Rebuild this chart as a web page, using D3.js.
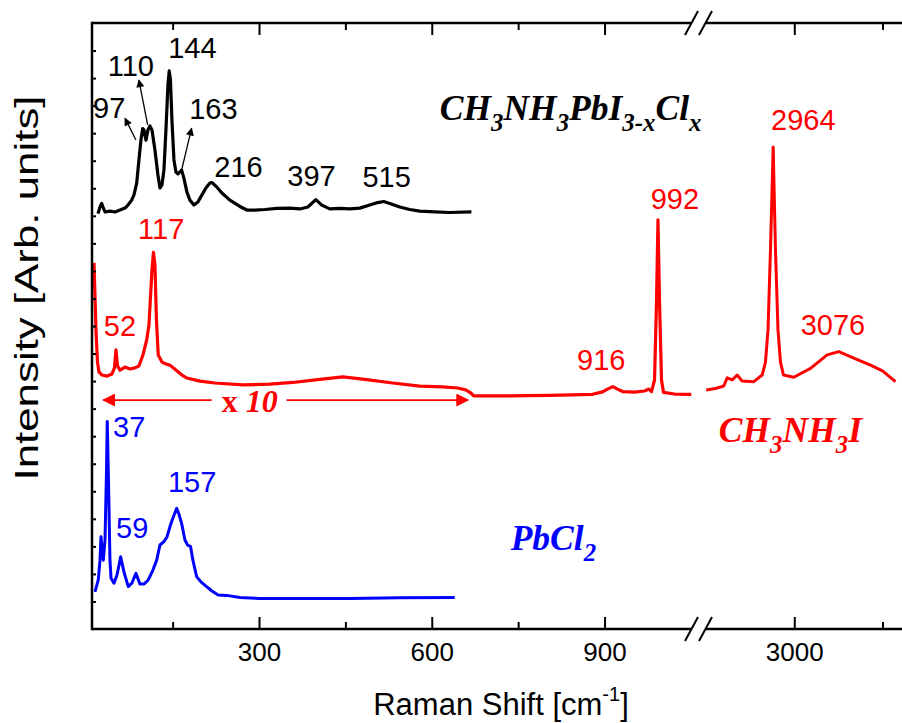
<!DOCTYPE html>
<html>
<head>
<meta charset="utf-8">
<script src="https://cdn.jsdelivr.net/npm/d3@7"></script>
<style>
  body { margin: 0; background: #fff; }
  svg { display: block; }
</style>
</head>
<body>
<div id="main"></div>
<script>

// ---- data (Raman shift in cm-1, intensity in arb. units) ----

const blackWn = [20.4, 23.9, 26.8, 29.1, 32.6, 41.2, 49.9, 58.6, 67.3, 72.5, 78.9, 82.9, 87.6, 91.5, 95.0, 98.0, 100.2, 103.7, 107.2, 110.6, 114.1, 119.3, 124.5, 128.0, 131.5, 134.9, 138.4, 141.9, 144.1, 146.2, 148.8, 152.3, 155.7, 159.2, 165.6, 169.6, 174.8, 180.0, 187.0, 193.9, 200.9, 207.8, 214.7, 218.2, 225.1, 235.6, 249.4, 266.8, 278.9, 292.8, 310.2, 331.0, 353.5, 370.9, 384.8, 398.6, 409.1, 422.9, 440.3, 457.6, 475.0, 492.3, 506.2, 516.6, 527.0, 544.4, 561.7, 579.1, 605.1, 631.1, 668.8];
const blackInt = [15.08, 15.32, 15.45, 15.32, 15.14, 15.17, 15.14, 15.21, 15.28, 15.39, 15.57, 15.76, 16.19, 17.03, 17.75, 18.17, 18.12, 17.75, 18.12, 18.26, 18.12, 17.39, 16.48, 16.01, 16.12, 16.66, 18.12, 19.75, 20.26, 19.93, 18.48, 17.03, 16.59, 16.52, 16.66, 16.37, 15.86, 15.57, 15.39, 15.50, 15.76, 16.01, 16.19, 16.21, 16.08, 15.83, 15.57, 15.34, 15.21, 15.21, 15.23, 15.27, 15.28, 15.25, 15.32, 15.59, 15.39, 15.25, 15.27, 15.25, 15.28, 15.39, 15.48, 15.52, 15.45, 15.32, 15.23, 15.17, 15.14, 15.12, 15.14];

const redWn = [13.5, 16.9, 19.5, 22.1, 27.4, 36.0, 44.7, 49.0, 51.6, 54.2, 58.6, 67.3, 75.9, 84.6, 91.5, 98.5, 104.9, 108.9, 111.5, 114.1, 116.7, 119.3, 121.9, 125.0, 131.5, 138.4, 145.3, 155.7, 166.2, 174.8, 197.4, 223.4, 272.0, 318.8, 358.7, 405.6, 445.5, 483.7, 532.2, 579.1, 619.0, 645.0, 658.9, 667.6, 672.8, 717.9, 804.6, 879.2, 896.5, 905.2, 914.4, 922.6, 931.3, 952.1, 969.4, 976.9, 981.6, 986.8, 990.3, 992.8, 995.4, 998.9, 1002.4, 1021.5, 1050.5];
const redInt = [13.29, 10.85, 9.69, 9.33, 9.22, 9.18, 9.26, 9.48, 10.13, 9.55, 9.40, 9.51, 9.44, 9.48, 9.55, 9.95, 10.49, 11.04, 12.02, 13.03, 13.67, 13.21, 11.22, 9.95, 9.69, 9.62, 9.58, 9.40, 9.22, 9.11, 9.00, 8.93, 8.86, 8.89, 8.95, 9.06, 9.15, 9.06, 8.93, 8.82, 8.79, 8.75, 8.68, 8.57, 8.46, 8.46, 8.48, 8.52, 8.61, 8.71, 8.80, 8.71, 8.62, 8.60, 8.64, 8.71, 8.62, 9.04, 11.94, 14.85, 11.94, 9.04, 8.59, 8.53, 8.52];

const redWnHigh = [2850.2, 2866.0, 2880.1, 2885.9, 2894.4, 2902.9, 2911.4, 2931.1, 2945.4, 2951.0, 2955.3, 2959.5, 2964.1, 2968.0, 2972.3, 2976.5, 2981.6, 2999.1, 3027.6, 3055.9, 3075.7, 3101.2, 3129.6, 3150.0, 3172.1];
const redIntHigh = [8.68, 8.73, 8.82, 9.12, 9.04, 9.22, 9.00, 8.98, 9.22, 9.69, 10.85, 13.76, 17.50, 13.76, 10.85, 9.69, 9.22, 9.14, 9.46, 9.95, 10.07, 9.83, 9.58, 9.37, 8.98];

const blueWn = [15.2, 20.9, 23.9, 25.6, 29.6, 32.6, 35.2, 36.5, 38.6, 41.2, 43.0, 48.2, 53.4, 59.8, 65.5, 73.0, 79.4, 86.3, 93.3, 100.2, 107.7, 115.8, 122.3, 128.0, 134.9, 140.1, 145.3, 150.5, 157.0, 160.9, 165.6, 171.4, 176.0, 181.2, 185.2, 191.7, 199.1, 209.0, 218.2, 229.1, 243.7, 266.8, 301.5, 370.9, 457.6, 544.4, 639.8];
const blueInt = [1.35, 1.78, 2.50, 3.35, 2.50, 3.23, 5.77, 7.53, 5.41, 2.50, 1.85, 1.66, 1.96, 2.62, 2.07, 1.54, 1.67, 2.02, 1.63, 1.63, 1.78, 2.14, 2.50, 3.05, 3.17, 3.34, 3.71, 4.03, 4.38, 4.17, 3.84, 3.23, 3.05, 2.99, 2.50, 1.90, 1.71, 1.54, 1.38, 1.23, 1.22, 1.14, 1.11, 1.11, 1.11, 1.13, 1.14];

// peak labels: text, shift, intensity
const blackPeaks = ['97', '110', '144', '163', '216', '397', '515'];
const blackPeakWn = [39.9, 77.5, 184.4, 220.8, 264.5, 391.2, 521.6];
const blackPeakInt = [18.56, 20.08, 20.72, 18.52, 16.42, 16.08, 16.06];

const redPeaks = ['52', '117', '916', '992'];
const redPeakWn = [58.6, 130.1, 894.3, 1022.1];
const redPeakInt = [10.64, 14.16, 9.40, 15.24];

const redPeaksHigh = ['2964', '3076'];
const redPeakWnHigh = [3015.4, 3065.8];
const redPeakIntHigh = [18.12, 10.67];

const bluePeaks = ['37', '59', '157'];
const bluePeakWn = [74.5, 79.7, 183.8];
const bluePeakInt = [6.98, 3.29, 4.98];

// pointer arrows for the black spectrum: [fromWn, fromInt, toWn, toInt]
const blackPointers = [[86.3, 17.75, 67.3, 18.54], [106.6, 18.30, 91.5, 19.93], [165.6, 16.66, 183.0, 18.18]];

// axis ticks
const majorLow = [300, 600, 900];
const minorLow = [150, 450, 750];
const majorHigh = [3000];
const minorHigh = [3150];
const yTicks = d3.range(1, 22);

// ---- layout ----
const w = 902;
const h = 723;
const pLeft = 92, pTop = 23, pBottom = 629;
const breakL = 691.5, breakR = 705.5;

const sans = "'Liberation Sans', Arial, sans-serif";
const serif = "'Liberation Serif', 'Times New Roman', serif";

const xLow = d3.scaleLinear().domain([10, 1051]).range([pLeft, breakL]);
const xHigh = d3.scaleLinear().domain([2849, 3200]).range([breakR, breakR + 351 * 0.588]);
const y = d3.scaleLinear().domain([0, 22]).range([pBottom, pTop]);

const svg = d3.select('#main').append('svg').attr('width', w).attr('height', h);
svg.append('rect').attr('width', w).attr('height', h).attr('fill', '#fff');

const plot = svg.append('g');

// ---- spectra ----
const lineLow = d3.line().x(d => xLow(d[0])).y(d => y(d[1]));
const lineHigh = d3.line().x(d => xHigh(d[0])).y(d => y(d[1]));
const zip = (a, b) => a.map((v, i) => [v, b[i]]);

plot.append('path').datum(zip(blueWn, blueInt)).attr('d', lineLow)
    .attr('fill', 'none').attr('stroke', '#0000ff').attr('stroke-width', 3).attr('stroke-linejoin', 'round');
plot.append('path').datum(zip(redWn, redInt)).attr('d', lineLow)
    .attr('fill', 'none').attr('stroke', '#ff0000').attr('stroke-width', 3.2).attr('stroke-linejoin', 'round');
plot.append('path').datum(zip(redWnHigh, redIntHigh)).attr('d', lineHigh)
    .attr('fill', 'none').attr('stroke', '#ff0000').attr('stroke-width', 3).attr('stroke-linejoin', 'round');
plot.append('path').datum(zip(blackWn, blackInt)).attr('d', lineLow)
    .attr('fill', 'none').attr('stroke', '#000').attr('stroke-width', 3.2).attr('stroke-linejoin', 'round');

// ---- axes ----
const axisX = (scale, vals, size, labels) => {
    const a = d3.axisBottom(scale).tickValues(vals).tickSize(-size).tickPadding(14);
    return labels ? a.tickFormat(d3.format('d')) : a.tickFormat('');
};
const axisT = (scale, vals, size) => d3.axisTop(scale).tickValues(vals).tickSize(-size).tickFormat('');

[[xLow, majorLow, minorLow], [xHigh, majorHigh, minorHigh]].forEach(([s, maj, mn]) => {
    plot.append('g').attr('transform', `translate(0,${pBottom})`).call(axisX(s, maj, 12, true));
    plot.append('g').attr('transform', `translate(0,${pBottom})`).call(axisX(s, mn, 7, false));
    plot.append('g').attr('transform', `translate(0,${pTop})`).call(axisT(s, maj, 12));
    plot.append('g').attr('transform', `translate(0,${pTop})`).call(axisT(s, mn, 7));
});
plot.append('g').attr('transform', `translate(${pLeft},0)`)
    .call(d3.axisLeft(y).tickValues(yTicks).tickSize(-4).tickFormat(''));

plot.selectAll('.domain').remove();
plot.selectAll('.tick line').attr('stroke', '#000').attr('stroke-width', 2);
plot.selectAll('.tick text').style('font-family', sans).style('font-size', '26px').attr('fill', '#000');

// frame lines with the break
const frame = plot.append('g').attr('stroke', '#000').attr('stroke-width', 2.5).attr('fill', 'none');
frame.append('line').attr('x1', pLeft).attr('x2', pLeft).attr('y1', pTop - 1.2).attr('y2', pBottom + 1.2);
[pTop, pBottom].forEach(yy => {
    frame.append('line').attr('x1', pLeft).attr('x2', breakL).attr('y1', yy).attr('y2', yy);
    frame.append('line').attr('x1', breakR).attr('x2', w + 10).attr('y1', yy).attr('y2', yy);
    [breakL, breakR].forEach(bx => {
        frame.append('line').attr('stroke-width', 2)
            .attr('x1', bx - 6.5).attr('y1', yy + 12).attr('x2', bx + 6.5).attr('y2', yy - 12);
    });
});

// ---- axis titles ----
const xt = svg.append('text').attr('x', 501).attr('y', 715).attr('text-anchor', 'middle')
    .style('font-family', sans).style('font-size', '31px');
xt.append('tspan').text('Raman Shift [cm');
xt.append('tspan').attr('dy', -14).style('font-size', '20px').text('-1');
xt.append('tspan').attr('dy', 14).text(']');

svg.append('text').attr('transform', 'translate(38,288) rotate(-90)').attr('text-anchor', 'middle')
    .attr('textLength', 385).attr('lengthAdjust', 'spacingAndGlyphs')
    .style('font-family', sans).style('font-size', '33px').text('Intensity [Arb. units]');

// ---- peak labels ----
const peakText = (names, wns, ints, scale, color) => {
    plot.selectAll(null).data(names).enter().append('text')
        .attr('x', (d, i) => scale(wns[i])).attr('y', (d, i) => y(ints[i]))
        .attr('text-anchor', 'middle').attr('fill', color)
        .style('font-family', sans).style('font-size', '29px').text(d => d);
};
peakText(blackPeaks, blackPeakWn, blackPeakInt, xLow, '#000');
peakText(redPeaks, redPeakWn, redPeakInt, xLow, '#ff0000');
peakText(redPeaksHigh, redPeakWnHigh, redPeakIntHigh, xHigh, '#ff0000');
peakText(bluePeaks, bluePeakWn, bluePeakInt, xLow, '#0000ff');

// arrow markers
const defs = svg.append('defs');
const marker = (id, color, mw, mh) => defs.append('marker').attr('id', id)
    .attr('viewBox', '0 0 10 10').attr('refX', 9).attr('refY', 5)
    .attr('markerWidth', mw).attr('markerHeight', mh).attr('markerUnits', 'userSpaceOnUse')
    .attr('orient', 'auto-start-reverse')
    .append('path').attr('d', 'M0,0 L10,5 L0,10 z').attr('fill', color);
marker('headBlack', '#000', 11, 8);
marker('headRed', '#ff0000', 16, 13);

plot.selectAll(null).data(blackPointers).enter().append('line')
    .attr('x1', d => xLow(d[0])).attr('y1', d => y(d[1]))
    .attr('x2', d => xLow(d[2])).attr('y2', d => y(d[3]))
    .attr('stroke', '#000').attr('stroke-width', 1.3).attr('marker-end', 'url(#headBlack)');

// x10 span arrow
const spanFrom = 29.6, spanTo = 662.9, spanInt = 8.31, gapFrom = 217.7, gapTo = 347.8;
plot.append('line').attr('x1', xLow(gapFrom)).attr('x2', xLow(spanFrom)).attr('y1', y(spanInt)).attr('y2', y(spanInt))
    .attr('stroke', '#ff0000').attr('stroke-width', 1.8).attr('marker-end', 'url(#headRed)');
plot.append('line').attr('x1', xLow(gapTo)).attr('x2', xLow(spanTo)).attr('y1', y(spanInt)).attr('y2', y(spanInt))
    .attr('stroke', '#ff0000').attr('stroke-width', 1.8).attr('marker-end', 'url(#headRed)');
const xten = plot.append('text').attr('x', xLow(284.1)).attr('y', y(7.89)).attr('text-anchor', 'middle')
    .attr('fill', '#ff0000').style('font-family', serif).style('font-weight', 'bold').style('font-size', '32px');
xten.append('tspan').text('x ');
xten.append('tspan').style('font-style', 'italic').text('10');

// ---- compound names ----
const chem = (parts, x, yy, color) => {
    const size = 35.5;
    const t = plot.append('text').attr('x', x).attr('y', yy).attr('fill', color)
        .style('font-family', serif).style('font-weight', 'bold').style('font-style', 'italic')
        .style('font-size', size + 'px');
    let down = false;
    parts.forEach(([txt, sub]) => {
        const dy = sub && !down ? 11.5 : (!sub && down ? -11.5 : 0);
        t.append('tspan').attr('dy', dy).style('font-size', (sub ? size * 0.7 : size) + 'px').text(txt);
        down = sub;
    });
};
chem([['CH', 0], ['3', 1], ['NH', 0], ['3', 1], ['PbI', 0], ['3-x', 1], ['Cl', 0], ['x', 1]], xLow(613.8), y(18.48), '#000');
chem([['CH', 0], ['3', 1], ['NH', 0], ['3', 1], ['I', 0]], xHigh(2871.6), y(6.80), '#ff0000');
chem([['PbCl', 0], ['2', 1]], xLow(737), y(2.87), '#0000ff');

</script>
</body>
</html>
